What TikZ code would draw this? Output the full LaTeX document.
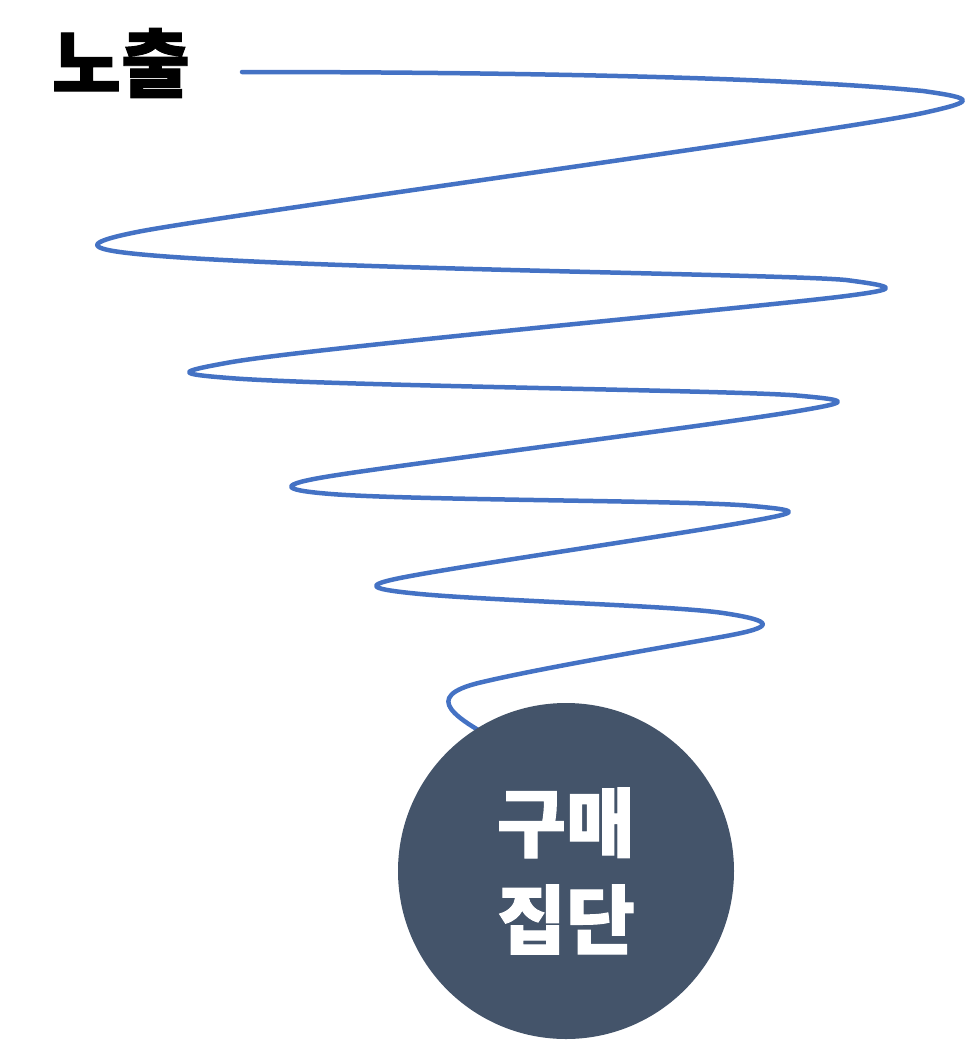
\documentclass[tikz,border=0pt]{standalone}
\usepackage{fontspec}
\newfontfamily\kr{Noto Sans CJK KR}[BoldFeatures={FakeBold=1.3}]
\usetikzlibrary{backgrounds}
\definecolor{spiralblue}{HTML}{4472C4}
\definecolor{groupgray}{HTML}{44546A}

\begin{document}
\begin{tikzpicture}[x=1pt, y=-1pt, spiral/.style={draw=spiralblue, line width=4.5pt, line cap=round, line join=round},
	word/.style={font=\kr\bfseries\fontsize{75}{97}\selectfont, inner sep=0pt, align=center},
	group/.style={circle, fill=groupgray, minimum size=336pt, inner sep=0pt}]
		\useasboundingbox (0,0) rectangle (966,1045);
		\node[word] (exposure) at (121,63) {노출};
		\node[group, word, text=white] (buyers) at (566,871) {구매\\집단};
		\coordinate (start) at (242,72);
		\coordinate (tail) at (505,745);
		
		\begin{scope}[on background layer]
		\draw[spiral] (start) .. controls +(230,0) and +(-150,-15) .. (923,91)
			.. controls +(53,7.5) and +(53,-11.7) .. (923,113)
			.. controls +(-80,17.6) and +(80,-16) .. (137,232)
			.. controls +(-53,10.6) and +(-53,-5.3) .. (137,254)
			.. controls +(150,15) and +(-60,-6) .. (846,280)
			.. controls +(53,6.9) and +(53,-6.9) .. (846,296)
			.. controls +(-80,10.4) and +(80,-14.4) .. (229,362.5)
			.. controls +(-53,9.5) and +(-53,-4.2) .. (229,378)
			.. controls +(100,8) and +(-60,-5.4) .. (798,395.6)
			.. controls +(53,4.8) and +(53,-9) .. (798,411)
			.. controls +(-80,13.6) and +(80,-12.8) .. (331,476)
			.. controls +(-53,8.5) and +(-53,-4.2) .. (331,494)
			.. controls +(80,6.4) and +(-60,-5.4) .. (749,505.7)
			.. controls +(53,4.8) and +(53,-9.5) .. (749,521.5)
			.. controls +(-70,12.6) and +(70,-12.6) .. (416,575)
			.. controls +(-53,9.5) and +(-53,-5.3) .. (416,593.6)
			.. controls +(70,7) and +(-50,-7.5) .. (723,613)
			.. controls +(53,8) and +(53,-9.5) .. (723,636.6)
			.. controls +(-60,10.8) and +(60,-14.4) .. (480,682.6)
			.. controls +(-60,14.4) and +(-50,-27) .. (tail);
		\end{scope}
		
	\end{tikzpicture}
\end{document}
